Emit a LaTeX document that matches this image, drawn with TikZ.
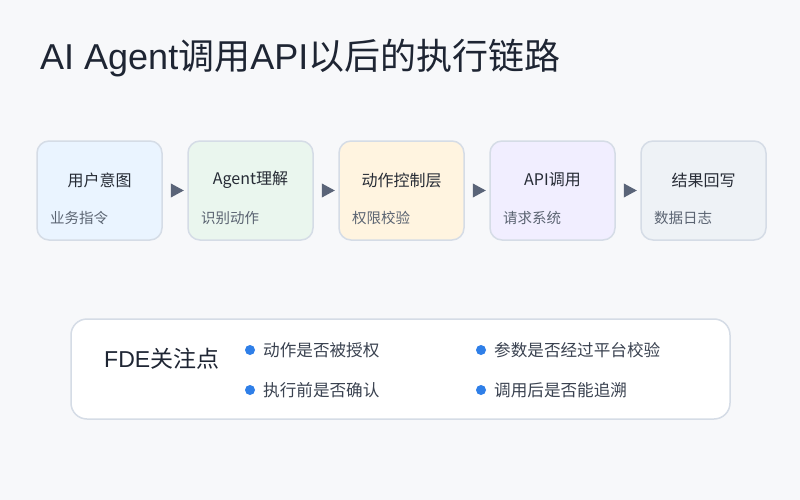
\documentclass[tikz,border=0pt]{standalone}
\usepackage{fontspec}
\setmainfont{Noto Sans CJK SC}
\newfontfamily\latinf{Liberation Sans}
\usetikzlibrary{shapes.geometric}
\definecolor{bg}{HTML}{F7F8FA}
\definecolor{titlec}{HTML}{1E2533}
\definecolor{headc}{HTML}{262B35}
\definecolor{subc}{HTML}{5B6472}
\definecolor{bodyc}{HTML}{3A4250}
\definecolor{bordc}{HTML}{D5DCE6}
\definecolor{arrc}{HTML}{5A6478}
\definecolor{dotc}{HTML}{2F7FE8}
\definecolor{fa}{HTML}{EAF4FF}
\definecolor{fb}{HTML}{EAF6EE}
\definecolor{fc}{HTML}{FFF4E0}
\definecolor{fd}{HTML}{F1EEFF}
\definecolor{fe}{HTML}{EEF2F6}
\tikzset{
  stepbox/.style={draw=bordc, line width=1.5pt, rounded corners=12pt, minimum width=125pt, minimum height=99pt, inner sep=0pt},
  head/.style={text=headc, font=\fontsize{16}{19}\selectfont, inner sep=0pt},
  sub/.style={text=subc, font=\fontsize{14.5}{17}\selectfont, anchor=west, inner sep=0pt},
  arrtri/.style={isosceles triangle, isosceles triangle apex angle=57, fill=arrc, inner sep=0pt, minimum height=13pt, minimum width=14pt},
  bullet/.style={circle, fill=dotc, inner sep=0pt, minimum size=10pt},
  btext/.style={text=bodyc, font=\fontsize{16.6}{19}\selectfont, anchor=west, inner sep=0pt},
}
\begin{document}
\begin{tikzpicture}[x=1pt, y=-1pt]
\fill[bg] (0,0) rectangle (800,500);
\useasboundingbox (0,0) rectangle (800,500);
\node[anchor=west, text=titlec, font=\fontsize{36}{40}\selectfont, inner sep=0pt] (title) at (40,58) {{\latinf AI Agent}调用{\latinf API}以后的执行链路};

\node[stepbox, fill=fa] (b1) at (99.5,190.5) {};
\node[stepbox, fill=fb] (b2) at (250.5,190.5) {};
\node[stepbox, fill=fc] (b3) at (401.5,190.5) {};
\node[stepbox, fill=fd] (b4) at (552.5,190.5) {};
\node[stepbox, fill=fe] (b5) at (703.5,190.5) {};

\node[head] (h1) at (99.5,180) {用户意图};
\node[head] (h2) at (250.5,180) {Agent理解};
\node[head] (h3) at (401.5,180) {动作控制层};
\node[head] (h4) at (552.5,180) {API调用};
\node[head] (h5) at (703.5,180) {结果回写};

\node[sub] (s1) at (50,218) {业务指令};
\node[sub] (s2) at (201,218) {识别动作};
\node[sub] (s3) at (352,218) {权限校验};
\node[sub] (s4) at (503,218) {请求系统};
\node[sub] (s5) at (654,218) {数据日志};

\path (b1.east) -- (b2.west) node[midway, arrtri] (a1) {};
\path (b2.east) -- (b3.west) node[midway, arrtri] (a2) {};
\path (b3.east) -- (b4.west) node[midway, arrtri] (a3) {};
\path (b4.east) -- (b5.west) node[midway, arrtri] (a4) {};

\node[draw=bordc, line width=1.5pt, fill=white, rounded corners=16pt, minimum width=659pt, minimum height=100pt, inner sep=0pt] (fde) at (400.5,369) {};
\node[anchor=west, text=titlec, font=\fontsize{23}{27}\selectfont, inner sep=0pt] (fdet) at (104,359) {{\latinf FDE}关注点};

\node[bullet] (d1) at (250,350) {};
\node[bullet] (d2) at (250,390) {};
\node[bullet] (d3) at (481,350) {};
\node[bullet] (d4) at (481,390) {};
\node[btext] (t1) at (263,350) {动作是否被授权};
\node[btext] (t2) at (263,390) {执行前是否确认};
\node[btext] (t3) at (494,350) {参数是否经过平台校验};
\node[btext] (t4) at (494,390) {调用后是否能追溯};
\end{tikzpicture}
\end{document}
